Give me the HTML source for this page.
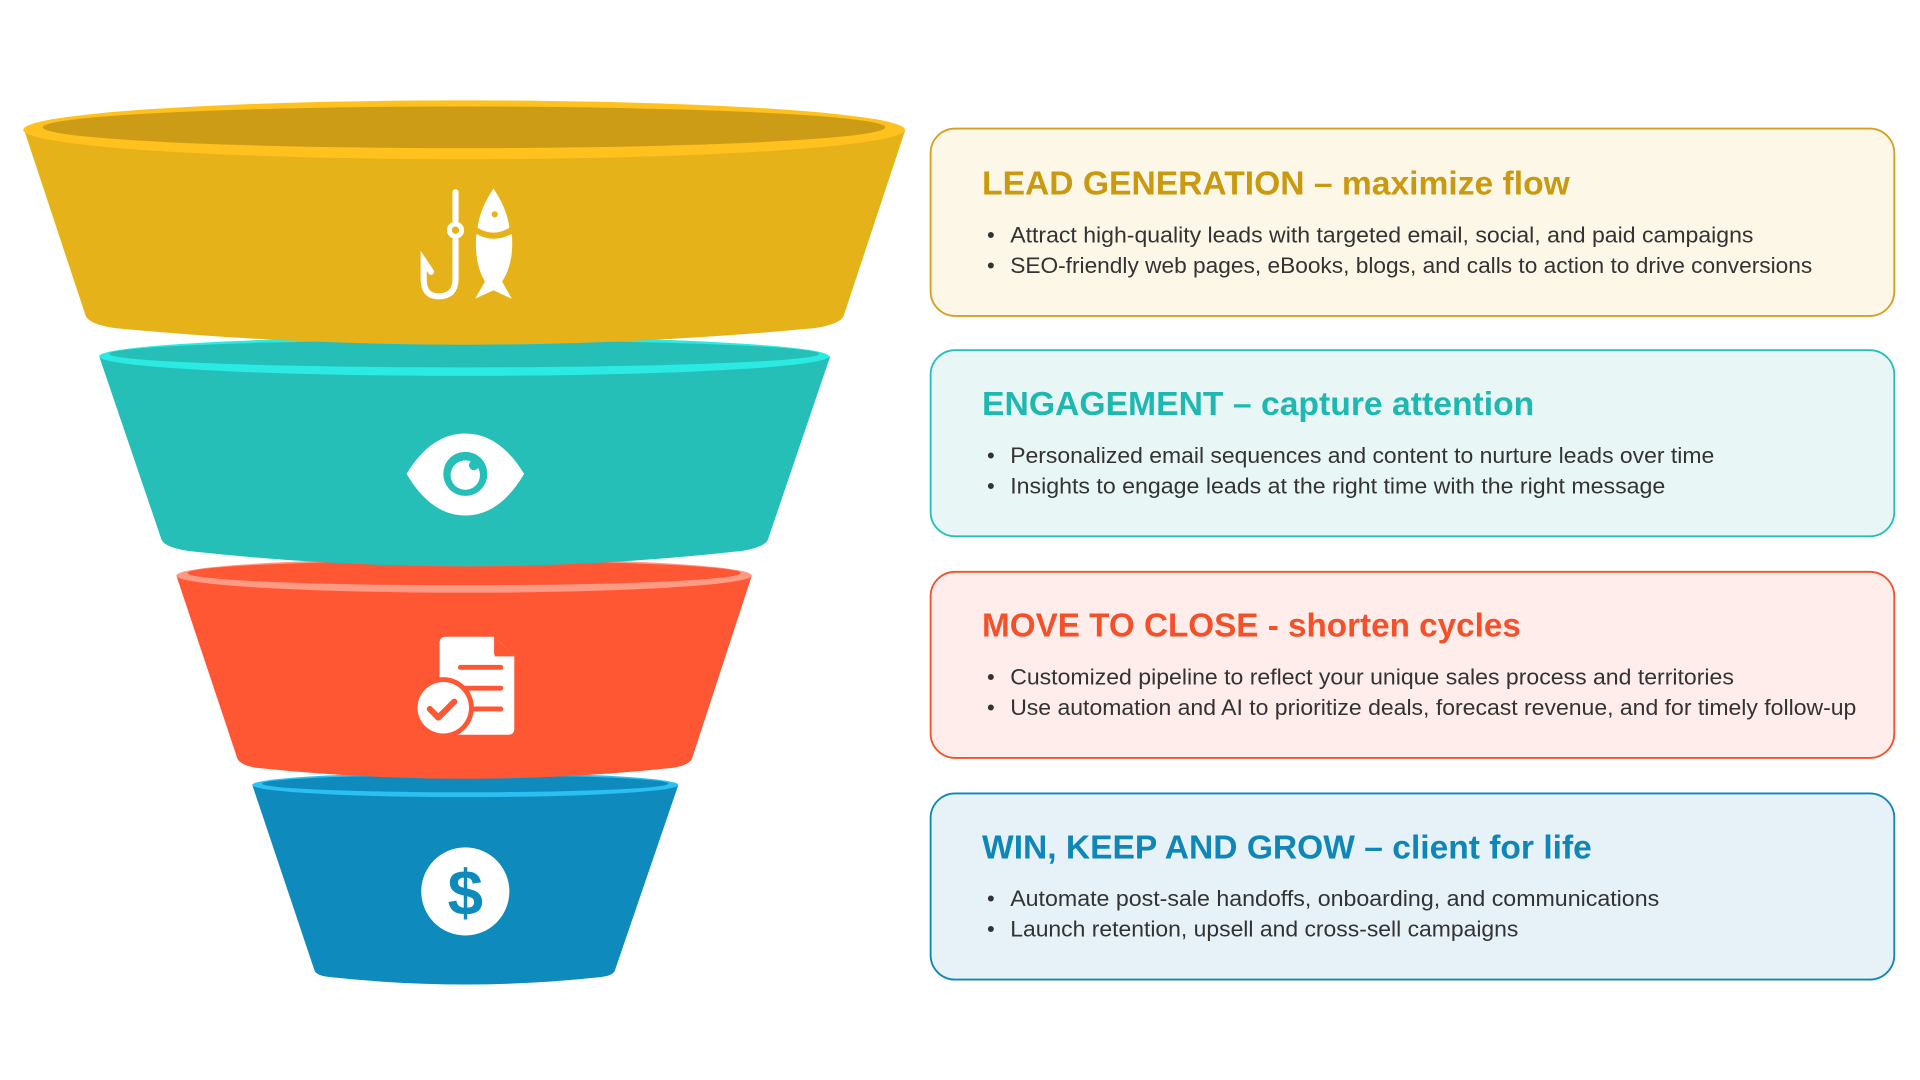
<!DOCTYPE html>
<html><head><meta charset="utf-8"><style>
html,body{margin:0;padding:0;background:#fff;}
svg{display:block;}
text{font-family:"Liberation Sans",sans-serif;}
</style></head><body>
<svg width="1920" height="1080" viewBox="0 0 1568 882" xmlns="http://www.w3.org/2000/svg">
<!-- Blue segment -->
<path d="M206,641 L554,641 L502,793 Q500,797 490,798 Q380,810 270,798 Q259,797 257,793 Z" fill="#0F8ABD"/>
<ellipse cx="380" cy="641" rx="174" ry="10" fill="#2BBFF2"/>
<ellipse cx="380" cy="640" rx="166" ry="7" fill="#0F8ABD"/>
<!-- Orange segment -->
<path d="M144,470 L614,470 L565,620 Q562,625 550,627 Q380,645 209,627 Q197,625 194,620 Z" fill="#FF5733"/>
<ellipse cx="379" cy="470" rx="235" ry="14" fill="#FF9A85"/>
<ellipse cx="379" cy="468" rx="226" ry="10" fill="#FF5733"/>
<!-- Teal segment -->
<path d="M81,291 L678,291 L627,441 Q624,447 605,450 Q380,475 154,450 Q135,447 132,441 Z" fill="#25BFB8"/>
<ellipse cx="379" cy="291" rx="298" ry="16" fill="#2AEAE2"/>
<ellipse cx="379" cy="289" rx="290" ry="11" fill="#25BFB8"/>
<!-- Yellow segment -->
<path d="M20,107 L739,107 L689,258 Q686,265 665,268 Q380,295 94,268 Q73,265 70,258 Z" fill="#E5B21A"/>
<ellipse cx="379" cy="106" rx="360" ry="24" fill="#FFC11E"/>
<ellipse cx="379" cy="104" rx="344" ry="17" fill="#CC9C16"/>
<!-- Hook + fish icon -->
<g fill="none" stroke="#fff" stroke-width="5" stroke-linecap="round">
<path d="M372,157 L372,180 M372,196 L372,228 Q372,242 358,242 Q346,242 346,228 L346,213 L352,222"/>
<circle cx="372" cy="188" r="5" stroke-width="4"/>
</g>
<path d="M403,154 Q414,170 416,186 Q403,194 390,186 Q392,170 403,154 Z" fill="#fff"/>
<path d="M389,191 Q403,199 418,191 Q420,215 410,230 L418,244 L403,237 L388,244 L396,230 Q387,215 389,191 Z" fill="#fff"/>
<circle cx="404" cy="175" r="2.5" fill="#E5B21A"/>
<!-- Eye icon -->
<path d="M332,387 Q352,354 380,354 Q408,354 428,387 Q408,421 380,421 Q352,421 332,387 Z" fill="#fff"/>
<circle cx="380" cy="387" r="18" fill="#25BFB8"/>
<circle cx="380" cy="388" r="12" fill="#fff"/>
<circle cx="387" cy="380" r="4" fill="#25BFB8"/>
<!-- Document icon -->
<path d="M364,520 L404,520 L420,536 L420,595 Q420,600 415,600 L364,600 Q359,600 359,595 L359,525 Q359,520 364,520 Z" fill="#fff"/>
<path d="M404,520 L404,536 L420,536 Z" fill="#FF5733"/>
<path d="M405,520 L405,533 L420,533" fill="none" stroke="#FF5733" stroke-width="3"/>
<g stroke="#FF5733" stroke-width="4" stroke-linecap="round"><line x1="376" y1="545" x2="409" y2="545"/><line x1="376" y1="562" x2="409" y2="562"/><line x1="376" y1="579" x2="409" y2="579"/></g>
<circle cx="362" cy="578" r="25" fill="#FF5733"/>
<circle cx="362" cy="578" r="21" fill="#fff"/>
<path d="M351,579 L358,586 L371,573" fill="none" stroke="#FF5733" stroke-width="5" stroke-linecap="round" stroke-linejoin="round"/>
<!-- Dollar icon -->
<circle cx="380" cy="728" r="36" fill="#fff"/>
<text x="380" y="747" font-size="52" font-weight="bold" fill="#0F8ABD" text-anchor="middle">$</text>

<!-- Boxes -->
<rect x="760" y="105" width="787" height="153" rx="20" fill="#FDF7E8" stroke="#D4A020" stroke-width="1.5"/>
<text x="802" y="159" font-size="27" font-weight="bold" fill="#C99A10" textLength="480" lengthAdjust="spacingAndGlyphs">LEAD GENERATION – maximize flow</text>
<text x="806" y="198" font-size="18" fill="#333">•</text>
<text x="825" y="198" font-size="18" fill="#333" textLength="607" lengthAdjust="spacingAndGlyphs">Attract high-quality leads with targeted email, social, and paid campaigns</text>
<text x="806" y="223" font-size="18" fill="#333">•</text>
<text x="825" y="223" font-size="18" fill="#333" textLength="655" lengthAdjust="spacingAndGlyphs">SEO-friendly web pages, eBooks, blogs, and calls to action to drive conversions</text>

<rect x="760" y="286" width="787" height="152" rx="20" fill="#E8F7F6" stroke="#25BFB8" stroke-width="1.5"/>
<text x="802" y="339" font-size="27" font-weight="bold" fill="#1FB8B0" textLength="451" lengthAdjust="spacingAndGlyphs">ENGAGEMENT – capture attention</text>
<text x="806" y="378" font-size="18" fill="#333">•</text>
<text x="825" y="378" font-size="18" fill="#333" textLength="575" lengthAdjust="spacingAndGlyphs">Personalized email sequences and content to nurture leads over time</text>
<text x="806" y="403" font-size="18" fill="#333">•</text>
<text x="825" y="403" font-size="18" fill="#333" textLength="535" lengthAdjust="spacingAndGlyphs">Insights to engage leads at the right time with the right message</text>

<rect x="760" y="467" width="787" height="152" rx="20" fill="#FEEDEA" stroke="#F4502A" stroke-width="1.5"/>
<text x="802" y="520" font-size="27" font-weight="bold" fill="#F4502A" textLength="440" lengthAdjust="spacingAndGlyphs">MOVE TO CLOSE - shorten cycles</text>
<text x="806" y="559" font-size="18" fill="#333">•</text>
<text x="825" y="559" font-size="18" fill="#333" textLength="591" lengthAdjust="spacingAndGlyphs">Customized pipeline to reflect your unique sales process and territories</text>
<text x="806" y="584" font-size="18" fill="#333">•</text>
<text x="825" y="584" font-size="18" fill="#333" textLength="691" lengthAdjust="spacingAndGlyphs">Use automation and AI to prioritize deals, forecast revenue, and for timely follow-up</text>

<rect x="760" y="648" width="787" height="152" rx="20" fill="#E6F2F8" stroke="#0E86B8" stroke-width="1.5"/>
<text x="802" y="701" font-size="27" font-weight="bold" fill="#0E86B8" textLength="498" lengthAdjust="spacingAndGlyphs">WIN, KEEP AND GROW – client for life</text>
<text x="806" y="740" font-size="18" fill="#333">•</text>
<text x="825" y="740" font-size="18" fill="#333" textLength="530" lengthAdjust="spacingAndGlyphs">Automate post-sale handoffs, onboarding, and communications</text>
<text x="806" y="765" font-size="18" fill="#333">•</text>
<text x="825" y="765" font-size="18" fill="#333" textLength="415" lengthAdjust="spacingAndGlyphs">Launch retention, upsell and cross-sell campaigns</text>
</svg>
</body></html>
